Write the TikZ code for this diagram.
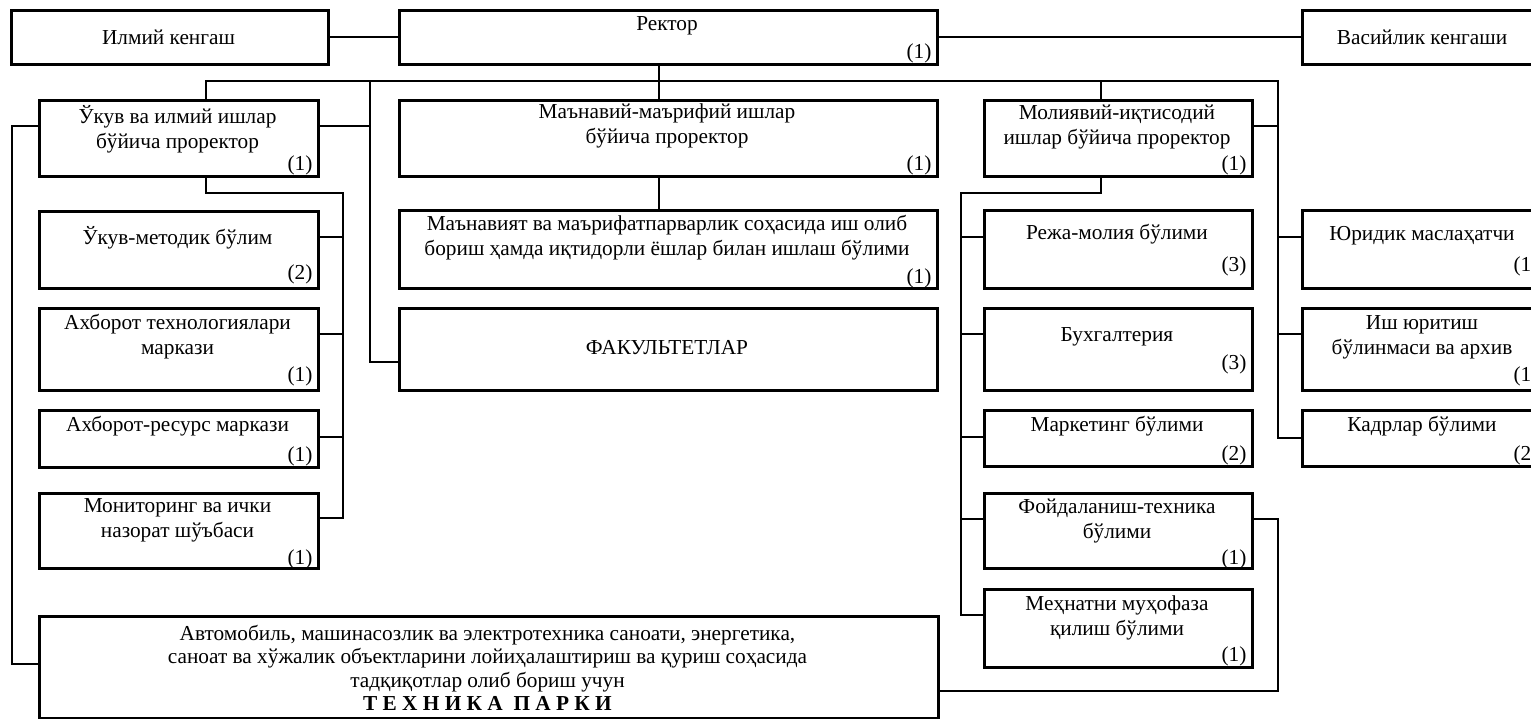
\documentclass[tikz,border=0pt]{standalone}
\usepackage{fontspec}
\setmainfont{Liberation Serif}
\usetikzlibrary{calc}
\begin{document}
\begin{tikzpicture}[x=1pt,y=-1pt,
  box/.style={draw, line width=2.6pt, inner sep=0pt, anchor=north west},
  conn/.style={line width=1.7pt},
  txt/.style={inner sep=0pt, font=\fontsize{21.3}{24.8}\selectfont, align=center},
  num/.style={inner sep=0pt, font=\fontsize{21.3}{24.8}\selectfont, anchor=base east},
]
\useasboundingbox (0,0) rectangle (1531,719);
\clip (0,0) rectangle (1531,719);
% boxes
\node[box, minimum width=317pt, minimum height=54pt] (ilmiy) at (10,9) {};
\node[box, minimum width=538pt, minimum height=54pt] (rektor) at (398,9) {};
\node[box, minimum width=242pt, minimum height=54pt] (vasiy) at (1301,9) {};
\node[box, minimum width=279pt, minimum height=76pt] (ukuv) at (38,99) {};
\node[box, minimum width=538pt, minimum height=76pt] (manaviy) at (398,99) {};
\node[box, minimum width=268pt, minimum height=76pt] (moliya) at (983,99) {};
\node[box, minimum width=279pt, minimum height=77pt] (metod) at (38,210) {};
\node[box, minimum width=279pt, minimum height=82pt] (axtex) at (38,307) {};
\node[box, minimum width=279pt, minimum height=57pt] (axres) at (38,409) {};
\node[box, minimum width=279pt, minimum height=75pt] (monit) at (38,492) {};
\node[box, minimum width=538pt, minimum height=78pt] (manav) at (398,209) {};
\node[box, minimum width=538pt, minimum height=82pt] (fakul) at (398,307) {};
\node[box, minimum width=268pt, minimum height=78pt] (reja) at (983,209) {};
\node[box, minimum width=268pt, minimum height=82pt] (buxg) at (983,307) {};
\node[box, minimum width=268pt, minimum height=56pt] (market) at (983,409) {};
\node[box, minimum width=268pt, minimum height=75pt] (foyd) at (983,492) {};
\node[box, minimum width=268pt, minimum height=78pt] (mehnat) at (983,588) {};
\node[box, minimum width=242pt, minimum height=78pt] (yurid) at (1301,209) {};
\node[box, minimum width=242pt, minimum height=82pt] (ishyur) at (1301,307) {};
\node[box, minimum width=242pt, minimum height=56pt] (kadr) at (1301,409) {};
\node[box, minimum width=899pt, minimum height=102pt] (texnika) at (38,615) {};
% texts
\node[txt] (ilmiyt) at (168.5,37) {Илмий кенгаш};
\node[txt] (rektort) at (667,26) {Ректор};
\node[txt] (vasiyt) at (1422,37) {Васийлик кенгаши};
\node[txt] (ukuvt) at (177.5,129.5) {Ўкув ва илмий ишлар\\бўйича проректор};
\node[txt] (manaviyt) at (667,126) {Маънавий-маърифий ишлар\\бўйича проректор};
\node[txt] (moliyat) at (1117,127) {Молиявий-иқтисодий\\ишлар бўйича проректор};
\node[txt] (metodt) at (177.5,238) {Ўкув-методик бўлим};
\node[txt] (axtext) at (177.5,337) {Ахборот технологиялари\\маркази};
\node[txt] (axrest) at (177.5,426) {Ахборот-ресурс маркази};
\node[txt] (monitt) at (177.5,520.5) {Мониторинг ва ички\\назорат шўъбаси};
\node[txt] (manavt) at (667,238) {Маънавият ва маърифатпарварлик соҳасида иш олиб\\бориш ҳамда иқтидорли ёшлар билан ишлаш бўлими};
\node[txt] (fakult) at (667,348) {ФАКУЛЬТЕТЛАР};
\node[txt] (rejat) at (1117,234) {Режа-молия бўлими};
\node[txt] (buxgt) at (1117,337) {Бухгалтерия};
\node[txt] (marketl) at (1117,426) {Маркетинг бўлими};
\node[txt] (foydt) at (1117,521) {Фойдаланиш-техника\\бўлими};
\node[txt] (mehnatt) at (1117,618) {Меҳнатни муҳофаза\\қилиш бўлими};
\node[txt] (yuridt) at (1422,236) {Юридик маслаҳатчи};
\node[txt] (ishyurt) at (1422,337) {Иш юритиш\\бўлинмаси ва архив};
\node[txt] (kadrt) at (1422,426) {Кадрлар бўлими};
\node[txt, font=\fontsize{21.3}{23.4}\selectfont] (texnikat) at (487.5,668) {Автомобиль, машинасозлик ва электротехника саноати, энергетика,\\саноат ва хўжалик объектларини лойиҳалаштириш ва қуриш соҳасида\\тадқиқотлар олиб бориш учун\\\textbf{Т Е Х Н И К А \ П А Р К И}};
% numbers
\node[num] (rektorn) at ($(rektor.south east)+(-7,-7)$) {(1)};
\node[num] (ukuvn) at ($(ukuv.south east)+(-7,-7)$) {(1)};
\node[num] (manaviyn) at ($(manaviy.south east)+(-7,-7)$) {(1)};
\node[num] (moliyan) at ($(moliya.south east)+(-7,-7)$) {(1)};
\node[num] (metodn) at ($(metod.south east)+(-7,-10)$) {(2)};
\node[num] (axtexn) at ($(axtex.south east)+(-7,-10)$) {(1)};
\node[num] (axresn) at ($(axres.south east)+(-7,-7)$) {(1)};
\node[num] (monitn) at ($(monit.south east)+(-7,-5)$) {(1)};
\node[num] (manavn) at ($(manav.south east)+(-7,-6)$) {(1)};
\node[num] (rejan) at ($(reja.south east)+(-7,-18)$) {(3)};
\node[num] (buxgn) at ($(buxg.south east)+(-7,-22)$) {(3)};
\node[num] (marketn) at ($(market.south east)+(-7,-7)$) {(2)};
\node[num] (foydn) at ($(foyd.south east)+(-7,-5)$) {(1)};
\node[num] (mehnatn) at ($(mehnat.south east)+(-7,-7)$) {(1)};
\node[num] (yuridn) at ($(yurid.south east)+(-7,-18)$) {(1)};
\node[num] (ishyurn) at ($(ishyur.south east)+(-7,-10)$) {(1)};
\node[num] (kadrn) at ($(kadr.south east)+(-7,-7)$) {(2)};
% connector coordinates
\coordinate (busL) at (206,81);
\coordinate (busR) at (1278,81);
\coordinate (lb) at (370,81);
\coordinate (mb) at (1101,81);
\coordinate (cb) at (659,81);
\coordinate (lv) at (343,193);
\coordinate (rv) at (961,193);
\coordinate (fr) at (1278,691);
\coordinate (ll) at (12,664);
% top row
\draw[conn] (ilmiy.east) -- (rektor.west);
\draw[conn] (rektor.east) -- (vasiy.west);
\draw[conn] (rektor.south -| cb) -- (manaviy.north -| cb);
\draw[conn] (manaviy.south -| cb) -- (manav.north -| cb);
% main bus
\draw[conn] (ukuv.north -| busL) -- (busL) -- (busR) |- (kadr.west);
\draw[conn] (mb) -- (moliya.north -| mb);
\draw[conn] (lb) |- (fakul.west |- 0,362);
\draw[conn] (ukuv.east |- 0,126) -- (lb |- 0,126);
\draw[conn] (moliya.east |- 0,126) -- (busR |- 0,126);
\draw[conn] (busR |- 0,237) -- (yurid.west |- 0,237);
\draw[conn] (busR |- 0,334) -- (ishyur.west |- 0,334);
% left column
\draw[conn] (ukuv.south -| busL) |- (lv) |- (monit.east |- 0,518);
\draw[conn] (lv |- 0,237) -- (metod.east |- 0,237);
\draw[conn] (lv |- 0,334) -- (axtex.east |- 0,334);
\draw[conn] (lv |- 0,437) -- (axres.east |- 0,437);
% right column
\draw[conn] (moliya.south -| mb) |- (rv) |- (mehnat.west |- 0,615);
\draw[conn] (rv |- 0,237) -- (reja.west |- 0,237);
\draw[conn] (rv |- 0,334) -- (buxg.west |- 0,334);
\draw[conn] (rv |- 0,437) -- (market.west |- 0,437);
\draw[conn] (rv |- 0,519) -- (foyd.west |- 0,519);
% technika park links
\draw[conn] (foyd.east |- 0,519) -| (fr) -- (texnika.east |- fr);
\draw[conn] (ukuv.west |- 0,126) -| (ll) -- (texnika.west |- ll);
\end{tikzpicture}
\end{document}
